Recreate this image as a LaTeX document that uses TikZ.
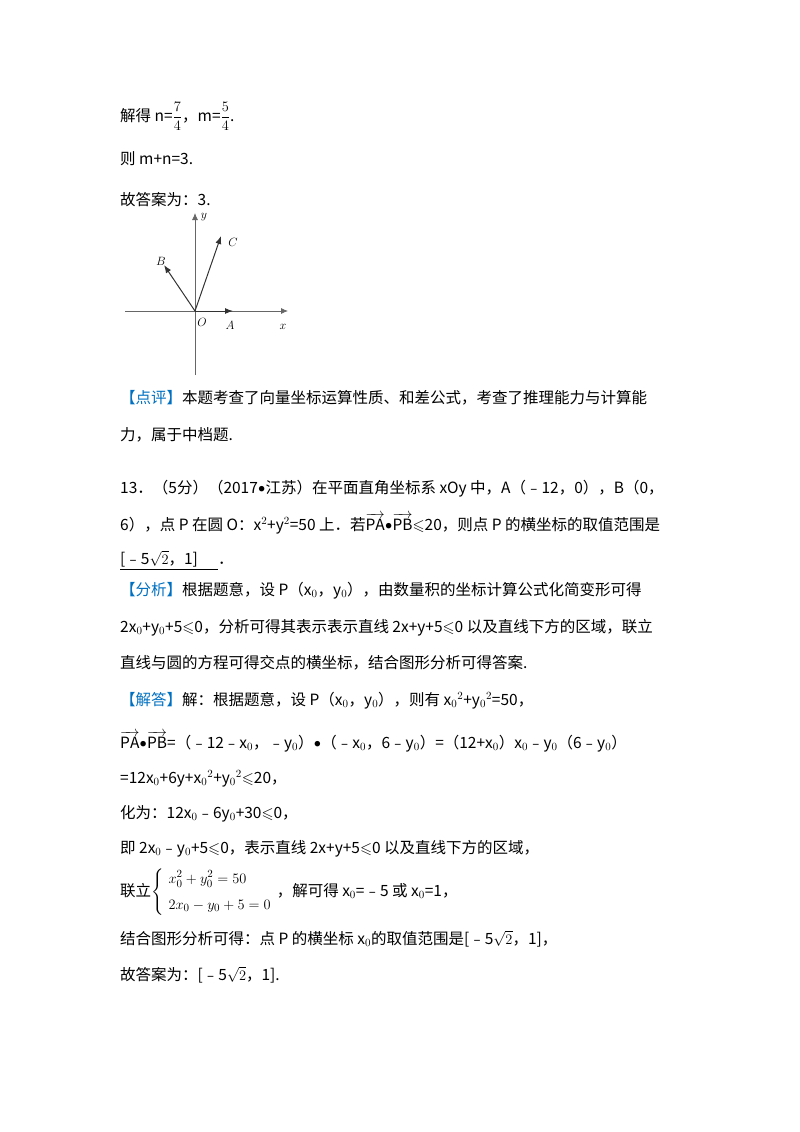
\documentclass[tikz,border=0pt]{standalone}
\usepackage{amsmath,amssymb}
\usepackage{fontspec}
\setmainfont{Noto Sans CJK SC}
\newfontfamily\carl{Carlito}
\usetikzlibrary{arrows.meta}
\definecolor{cblue}{RGB}{0,112,192}
\newcommand{\vA}{\overrightarrow{\mathrm{PA}}}
\newcommand{\vB}{\overrightarrow{\mathrm{PB}}}
\newcommand{\leqs}{\(\leqslant\)}
\newcommand{\xz}{x\(_0\)}
\newcommand{\yz}{y\(_0\)}
\newcommand{\bul}{{\carl•}}
\begin{document}
\begin{tikzpicture}[x=1pt,y=-1pt,
  t/.style={anchor=base west,inner sep=0pt,font=\fontsize{15.5}{18}\selectfont},
  lab/.style={inner sep=0pt,font=\fontsize{12}{12}\selectfont},
  ax/.style={gray!80!black,line width=0.8pt,-{Latex[length=7pt,width=6pt]}},
  vec/.style={black!80,line width=1pt,-{Latex[length=8pt,width=6pt]}}]
\useasboundingbox (0,0) rectangle (800,1132);
\node[t] (l1) at (120,121) {解得 n=\(\dfrac{7}{4}\)，m=\(\dfrac{5}{4}\).};
\node[t] (l2) at (120,164) {则 m+n=3.};
\node[t] (l3) at (120,205) {故答案为：3.};
% figure
\coordinate (O) at (195,311);
\coordinate (xl) at (125,311); \coordinate (xr) at (288,311);
\coordinate (yb) at (195,375); \coordinate (yt) at (195,213);
\coordinate (A) at (233,311); \coordinate (C) at (221,236); \coordinate (B) at (164,265);
\draw[ax] (xl) -- (xr);
\draw[ax] (yb) -- (yt);
\draw[vec] (O) -- (A);
\draw[vec] (O) -- (C);
\draw[vec] (O) -- (B);
\node[lab] (ly) at (204,217) {\(y\)};
\node[lab] (lc) at (233,242) {\(C\)};
\node[lab] (lb) at (161,261) {\(B\)};
\node[lab] (lo) at (202,322) {\(O\)};
\node[lab] (la) at (230,325) {\(A\)};
\node[lab] (lx) at (283,327) {\(x\)};
%
\node[t] (d1) at (120,403) {\textcolor{cblue}{【点评】}本题考查了向量坐标运算性质、和差公式，考查了推理能力与计算能};
\node[t] (d2) at (120,440) {力，属于中档题.};
\node[t] (q1) at (120,493) {13．（5分）（2017\bul 江苏）在平面直角坐标系 xOy 中，A（﹣12，0），B（0，};
\node[t] (q2) at (120,530) {6），点 P 在圆 O：x\(^2\)+y\(^2\)=50 上．若\(\vA\)\bul\(\vB\)\leqs 20，则点 P 的横坐标的取值范围是};
\node[t] (q3) at (120,564) {\underline{[﹣5\(\sqrt{2}\)，1]\hspace{1.3em}}．};
\node[t] (f1) at (120,595) {\textcolor{cblue}{【分析】}根据题意，设 P（\xz，\yz），由数量积的坐标计算公式化简变形可得};
\node[t] (f2) at (120,632) {2\xz+\yz+5\leqs 0，分析可得其表示表示直线 2x+y+5\leqs 0 以及直线下方的区域，联立};
\node[t] (f3) at (120,668) {直线与圆的方程可得交点的横坐标，结合图形分析可得答案.};
\node[t] (s1) at (120,705) {\textcolor{cblue}{【解答】}解：根据题意，设 P（\xz，\yz），则有 \xz\(^2\)+\yz\(^2\)=50，};
\node[t] (s2) at (120,748) {\(\vA\)\bul\(\vB\)=（﹣12﹣\xz，﹣\yz）\bul（﹣\xz，6﹣\yz）=（12+\xz）\xz﹣\yz（6﹣\yz）};
\node[t] (s3) at (120,783) {=12\xz+6y+\xz\(^2\)+\yz\(^2\)\leqs 20，};
\node[t] (s4) at (120,818) {化为：12\xz﹣6\yz+30\leqs 0，};
\node[t] (s5) at (120,853) {即 2\xz﹣\yz+5\leqs 0，表示直线 2x+y+5\leqs 0 以及直线下方的区域，};
\node[t] (s6) at (120,896) {联立\(\left\{\begin{array}{l}x_0^2+y_0^2=50\\[8pt] 2x_0-y_0+5=0\end{array}\right.\)，解可得 \xz=﹣5 或 \xz=1，};
\node[t] (s7) at (120,944) {结合图形分析可得：点 P 的横坐标 \xz 的取值范围是[﹣5\(\sqrt{2}\)，1]，};
\node[t] (s8) at (120,980) {故答案为：[﹣5\(\sqrt{2}\)，1].};
\end{tikzpicture}
\end{document}
